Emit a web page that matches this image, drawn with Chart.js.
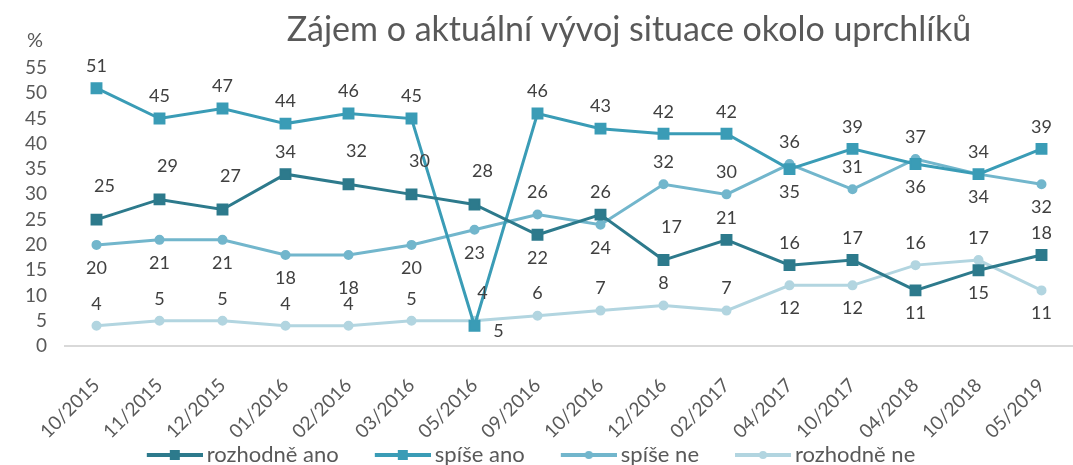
<!DOCTYPE html>
<html>
<head>
<meta charset="utf-8">
<script src="https://cdn.jsdelivr.net/npm/chart.js@4"></script>
<style>
  html, body { margin: 0; padding: 0; background: #fff; }
</style>
</head>
<body>
<canvas id="chart" width="1073" height="465"></canvas>
<script>
// categories
var periods = ['10/2015', '11/2015', '12/2015', '01/2016', '02/2016', '03/2016', '05/2016', '09/2016',
    '10/2016', '12/2016', '02/2017', '04/2017', '10/2017', '04/2018', '10/2018', '05/2019'];
// series (%)
var rozhodneAno = [25, 29, 27, 34, 32, 30, 28, 22, 26, 17, 21, 16, 17, 11, 15, 18];
var spiseAno = [51, 45, 47, 44, 46, 45, 4, 46, 43, 42, 42, 35, 39, 36, 34, 39];
var spiseNe = [20, 21, 21, 18, 18, 20, 23, 26, 24, 32, 30, 36, 31, 37, 34, 32];
var rozhodneNe = [4, 5, 5, 4, 4, 5, 5, 6, 7, 8, 7, 12, 12, 16, 17, 11];
// y axis ticks
var yTicks = [0, 5, 10, 15, 20, 25, 30, 35, 40, 45, 50, 55];

// where each value label sits: t/T above, b/B below, r right
var posRozhodneAno = ['T', 'T', 'T', 't', 'T', 'T', 'T', 'b', 't', 'T', 't', 't', 't', 'b', 'b', 't'];
var posSpiseAno = ['t', 't', 't', 't', 't', 't', 'T', 't', 't', 't', 't', 'b', 't', 'b', 'b', 't'];
var posSpiseNe = ['b', 'b', 'b', 'b', 'B', 'b', 'b', 't', 'b', 't', 't', 't', 't', 't', 't', 'b'];
var posRozhodneNe = ['t', 't', 't', 't', 't', 't', 'r', 't', 't', 't', 't', 'b', 'b', 't', 't', 'b'];

var colors = ['#2d7a8c', '#3a9cb6', '#72b6cc', '#b2d5e0'];
var FONT = 'Lato, "Open Sans", sans-serif';

// legend symbol: short line with marker, left part of the image kept empty as spacing
function legendMark(color, square) {
    var c = document.createElement('canvas');
    c.width = 97;
    c.height = 14;
    var g = c.getContext('2d');
    g.strokeStyle = color;
    g.lineWidth = 4;
    g.beginPath();
    g.moveTo(41, 7);
    g.lineTo(97, 7);
    g.stroke();
    g.fillStyle = color;
    if (square) {
        g.fillRect(64, 2, 10, 10);
    } else {
        g.beginPath();
        g.arc(69, 7, 4, 0, Math.PI * 2);
        g.fill();
    }
    return c;
}
var marks = [legendMark(colors[0], true), legendMark(colors[1], true),
    legendMark(colors[2], false), legendMark(colors[3], false)];

// value labels next to points
var valueLabels = {
    id: 'valueLabels',
    afterDatasetsDraw: function (chart) {
        var ctx = chart.ctx;
        ctx.save();
        ctx.font = '18px ' + FONT;
        ctx.fillStyle = '#404040';
        ctx.textAlign = 'center';
        ctx.textBaseline = 'middle';
        chart.data.datasets.forEach(function (ds, i) {
            chart.getDatasetMeta(i).data.forEach(function (pt, j) {
                var p = ds.labelPos[j];
                var dx = 0, dy = -22;
                if (p === 'T') { dy = -33; dx = 8; }
                if (p === 'b') dy = 23;
                if (p === 'B') dy = 33;
                if (p === 'r') { dx = 24; dy = 10; }
                ctx.fillText(ds.data[j], pt.x + dx, pt.y + dy);
            });
        });
        ctx.restore();
    }
};

// title and % unit
var headings = {
    id: 'headings',
    afterDraw: function (chart) {
        var ctx = chart.ctx;
        ctx.save();
        ctx.fillStyle = '#595959';
        ctx.textBaseline = 'middle';
        ctx.textAlign = 'center';
        ctx.font = '34px ' + FONT;
        ctx.fillText('Zájem o aktuální vývoj situace okolo uprchlíků', 629, 30);
        ctx.font = '20px ' + FONT;
        ctx.fillText('%', 35, 41);
        ctx.restore();
    }
};

function series(label, data, pos, color, square) {
    return {
        label: label,
        data: data,
        labelPos: pos,
        borderColor: color,
        backgroundColor: color,
        borderWidth: 3,
        pointStyle: square ? 'rect' : 'circle',
        pointRadius: square ? 7 : 4,
        pointBorderWidth: 2,
        pointBackgroundColor: color,
        pointBorderColor: color,
        tension: 0,
        fill: false
    };
}

var ctx = document.getElementById('chart').getContext('2d');
var chart = new Chart(ctx, {
    type: 'line',
    data: {
        labels: periods,
        datasets: [
            series('rozhodně ano', rozhodneAno, posRozhodneAno, colors[0], true),
            series('spíše ano', spiseAno, posSpiseAno, colors[1], true),
            series('spíše ne', spiseNe, posSpiseNe, colors[2], false),
            series('rozhodně ne', rozhodneNe, posRozhodneNe, colors[3], false)
        ]
    },
    options: {
        responsive: false,
        animation: false,
        layout: { autoPadding: false, padding: { top: 68, right: -7, bottom: -11, left: -52 } },
        scales: {
            x: {
                offset: true,
                afterFit: function (scale) {
                    scale.height = 96;
                    scale.paddingLeft = 0;
                    scale.paddingRight = 0;
                },
                grid: { display: false, drawTicks: false },
                border: { display: true, color: '#d9d9d9', width: 2 },
                ticks: {
                    color: '#595959',
                    font: { family: FONT, size: 19 },
                    minRotation: 45,
                    maxRotation: 45,
                    padding: 28,
                    autoSkip: false
                }
            },
            y: {
                min: 0,
                max: 55,
                afterBuildTicks: function (scale) {
                    scale.ticks = yTicks.map(function (v) { return { value: v }; });
                },
                afterFit: function (scale) { scale.width = 117; },
                grid: { display: false, drawTicks: false },
                border: { display: false },
                ticks: {
                    color: '#595959',
                    font: { family: FONT, size: 19 },
                    padding: 18,
                    autoSkip: false
                }
            }
        },
        plugins: {
            title: { display: false },
            tooltip: { enabled: false },
            legend: {
                position: 'bottom',
                labels: {
                    usePointStyle: true,
                    pointStyleWidth: 83,
                    boxHeight: 14,
                    padding: 2,
                    color: '#595959',
                    font: { family: FONT, size: 22 },
                    generateLabels: function (chart) {
                        var items = Chart.defaults.plugins.legend.labels.generateLabels(chart);
                        items.forEach(function (it, i) { it.pointStyle = marks[i]; });
                        return items;
                    }
                }
            }
        }
    },
    plugins: [valueLabels, headings]
});
</script>
</body>
</html>
